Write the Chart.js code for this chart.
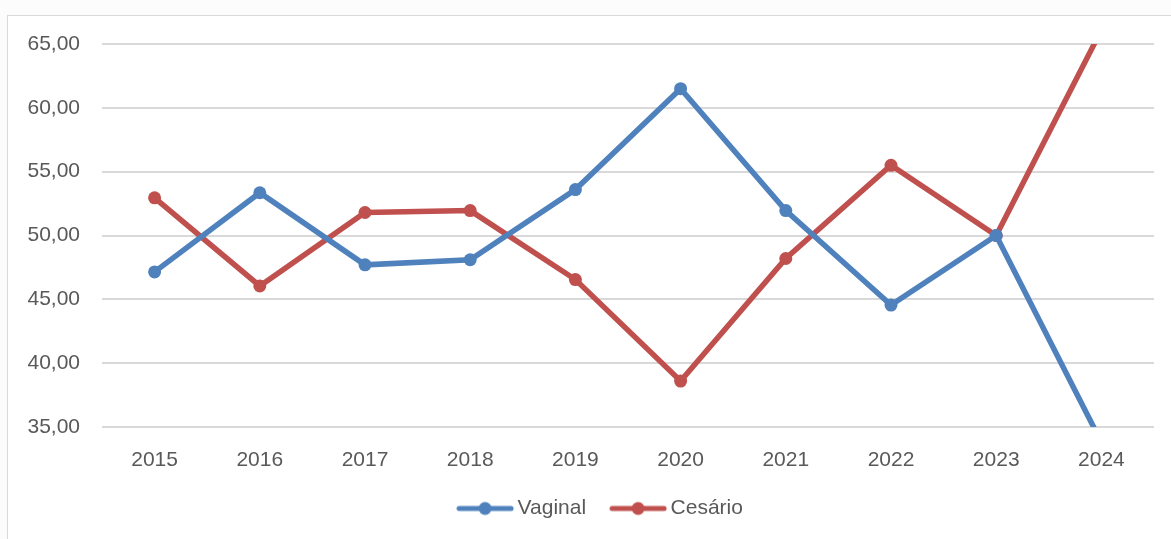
<!DOCTYPE html>
<html>
<head>
<meta charset="utf-8">
<script src="https://cdn.jsdelivr.net/npm/chart.js@4/dist/chart.umd.min.js"></script>
<style>
  html, body { margin: 0; padding: 0; background: #fff; }
  #wrap { position: relative; width: 1171px; height: 539px; overflow: hidden; background: #fcfcfd; }
  #frame { position: absolute; left: 7px; top: 15px; width: 1200px; height: 600px; border: 1.5px solid #d9d9d9; background: #fff; }
  #chart { position: absolute; left: 0; top: 0; }
</style>
</head>
<body>
<div id="wrap">
  <div id="frame"></div>
  <canvas id="chart" width="1171" height="539"></canvas>
</div>
<script>
// データ
const years = ['2015', '2016', '2017', '2018', '2019', '2020', '2021', '2022', '2023', '2024'];
const vaginal = [47.15, 53.35, 47.7, 48.1, 53.6, 61.5, 51.95, 44.55, 50.0, 33.8];
const cesario = [52.95, 46.05, 51.8, 51.95, 46.55, 38.6, 48.2, 55.5, 50.0, 66.1];
const yTicks = [35, 40, 45, 50, 55, 60, 65];

const blue = '#4f81bd';
const red = '#c0504d';
const textColor = '#595959';
const fontFamily = '"Liberation Sans", Arial, sans-serif';

// 凡例用のアイコン（線＋点）
function legendIcon(color) {
    const c = document.createElement('canvas');
    c.width = 58;
    c.height = 16;
    const ctx = c.getContext('2d');
    ctx.strokeStyle = color;
    ctx.lineWidth = 5;
    ctx.lineCap = 'round';
    ctx.beginPath();
    ctx.moveTo(3, 8);
    ctx.lineTo(55, 8);
    ctx.stroke();
    ctx.fillStyle = color;
    ctx.beginPath();
    ctx.arc(29, 8, 6.5, 0, Math.PI * 2);
    ctx.fill();
    return c;
}

function makeDataset(label, data, color) {
    return {
        label: label,
        data: data,
        borderColor: color,
        backgroundColor: color,
        borderWidth: 5.5,
        pointRadius: 6.5,
        pointHoverRadius: 6.5,
        pointBorderWidth: 0,
        pointStyle: 'circle',
        tension: 0
    };
}

// 凡例を少し右へずらす
const legendShift = {
    id: 'legendShift',
    afterLayout(chart) {
        chart.legend.left += 26;
        chart.legend.right += 26;
    }
};

const ctx = document.getElementById('chart').getContext('2d');
new Chart(ctx, {
    type: 'line',
    data: {
        labels: years,
        datasets: [
            makeDataset('Vaginal', vaginal, blue),
            makeDataset('Cesário', cesario, red)
        ]
    },
    options: {
        responsive: false,
        animation: false,
        layout: { padding: { left: 0, right: 17, top: 44, bottom: 10 } },
        scales: {
            x: {
                offset: true,
                grid: { display: false, drawTicks: false },
                border: { display: false },
                ticks: { color: textColor, font: { family: fontFamily, size: 21 }, padding: 21, maxRotation: 0 },
                afterFit: scale => { scale.height = 41; }
            },
            y: {
                min: 35,
                max: 65,
                afterBuildTicks: scale => { scale.ticks = yTicks.map(v => ({ value: v })); },
                grid: { color: '#d9d9d9', lineWidth: 2, drawTicks: false },
                border: { display: false },
                ticks: {
                    color: textColor,
                    font: { family: fontFamily, size: 21 },
                    padding: 22,
                    callback: v => v.toFixed(2).replace('.', ',')
                },
                afterFit: scale => { scale.width = 102; }
            }
        },
        plugins: {
            legend: {
                position: 'bottom',
                labels: {
                    usePointStyle: true,
                    pointStyleWidth: 44,
                    color: textColor,
                    font: { family: fontFamily, size: 21 },
                    padding: 30,
                    generateLabels: chart => chart.data.datasets.map((ds, i) => ({
                        text: ds.label,
                        pointStyle: legendIcon(ds.borderColor),
                        fillStyle: ds.borderColor,
                        strokeStyle: ds.borderColor,
                        lineWidth: 0,
                        fontColor: textColor,
                        datasetIndex: i,
                        hidden: false
                    }))
                }
            },
            tooltip: { enabled: false }
        }
    },
    plugins: [legendShift]
});
</script>
</body>
</html>
